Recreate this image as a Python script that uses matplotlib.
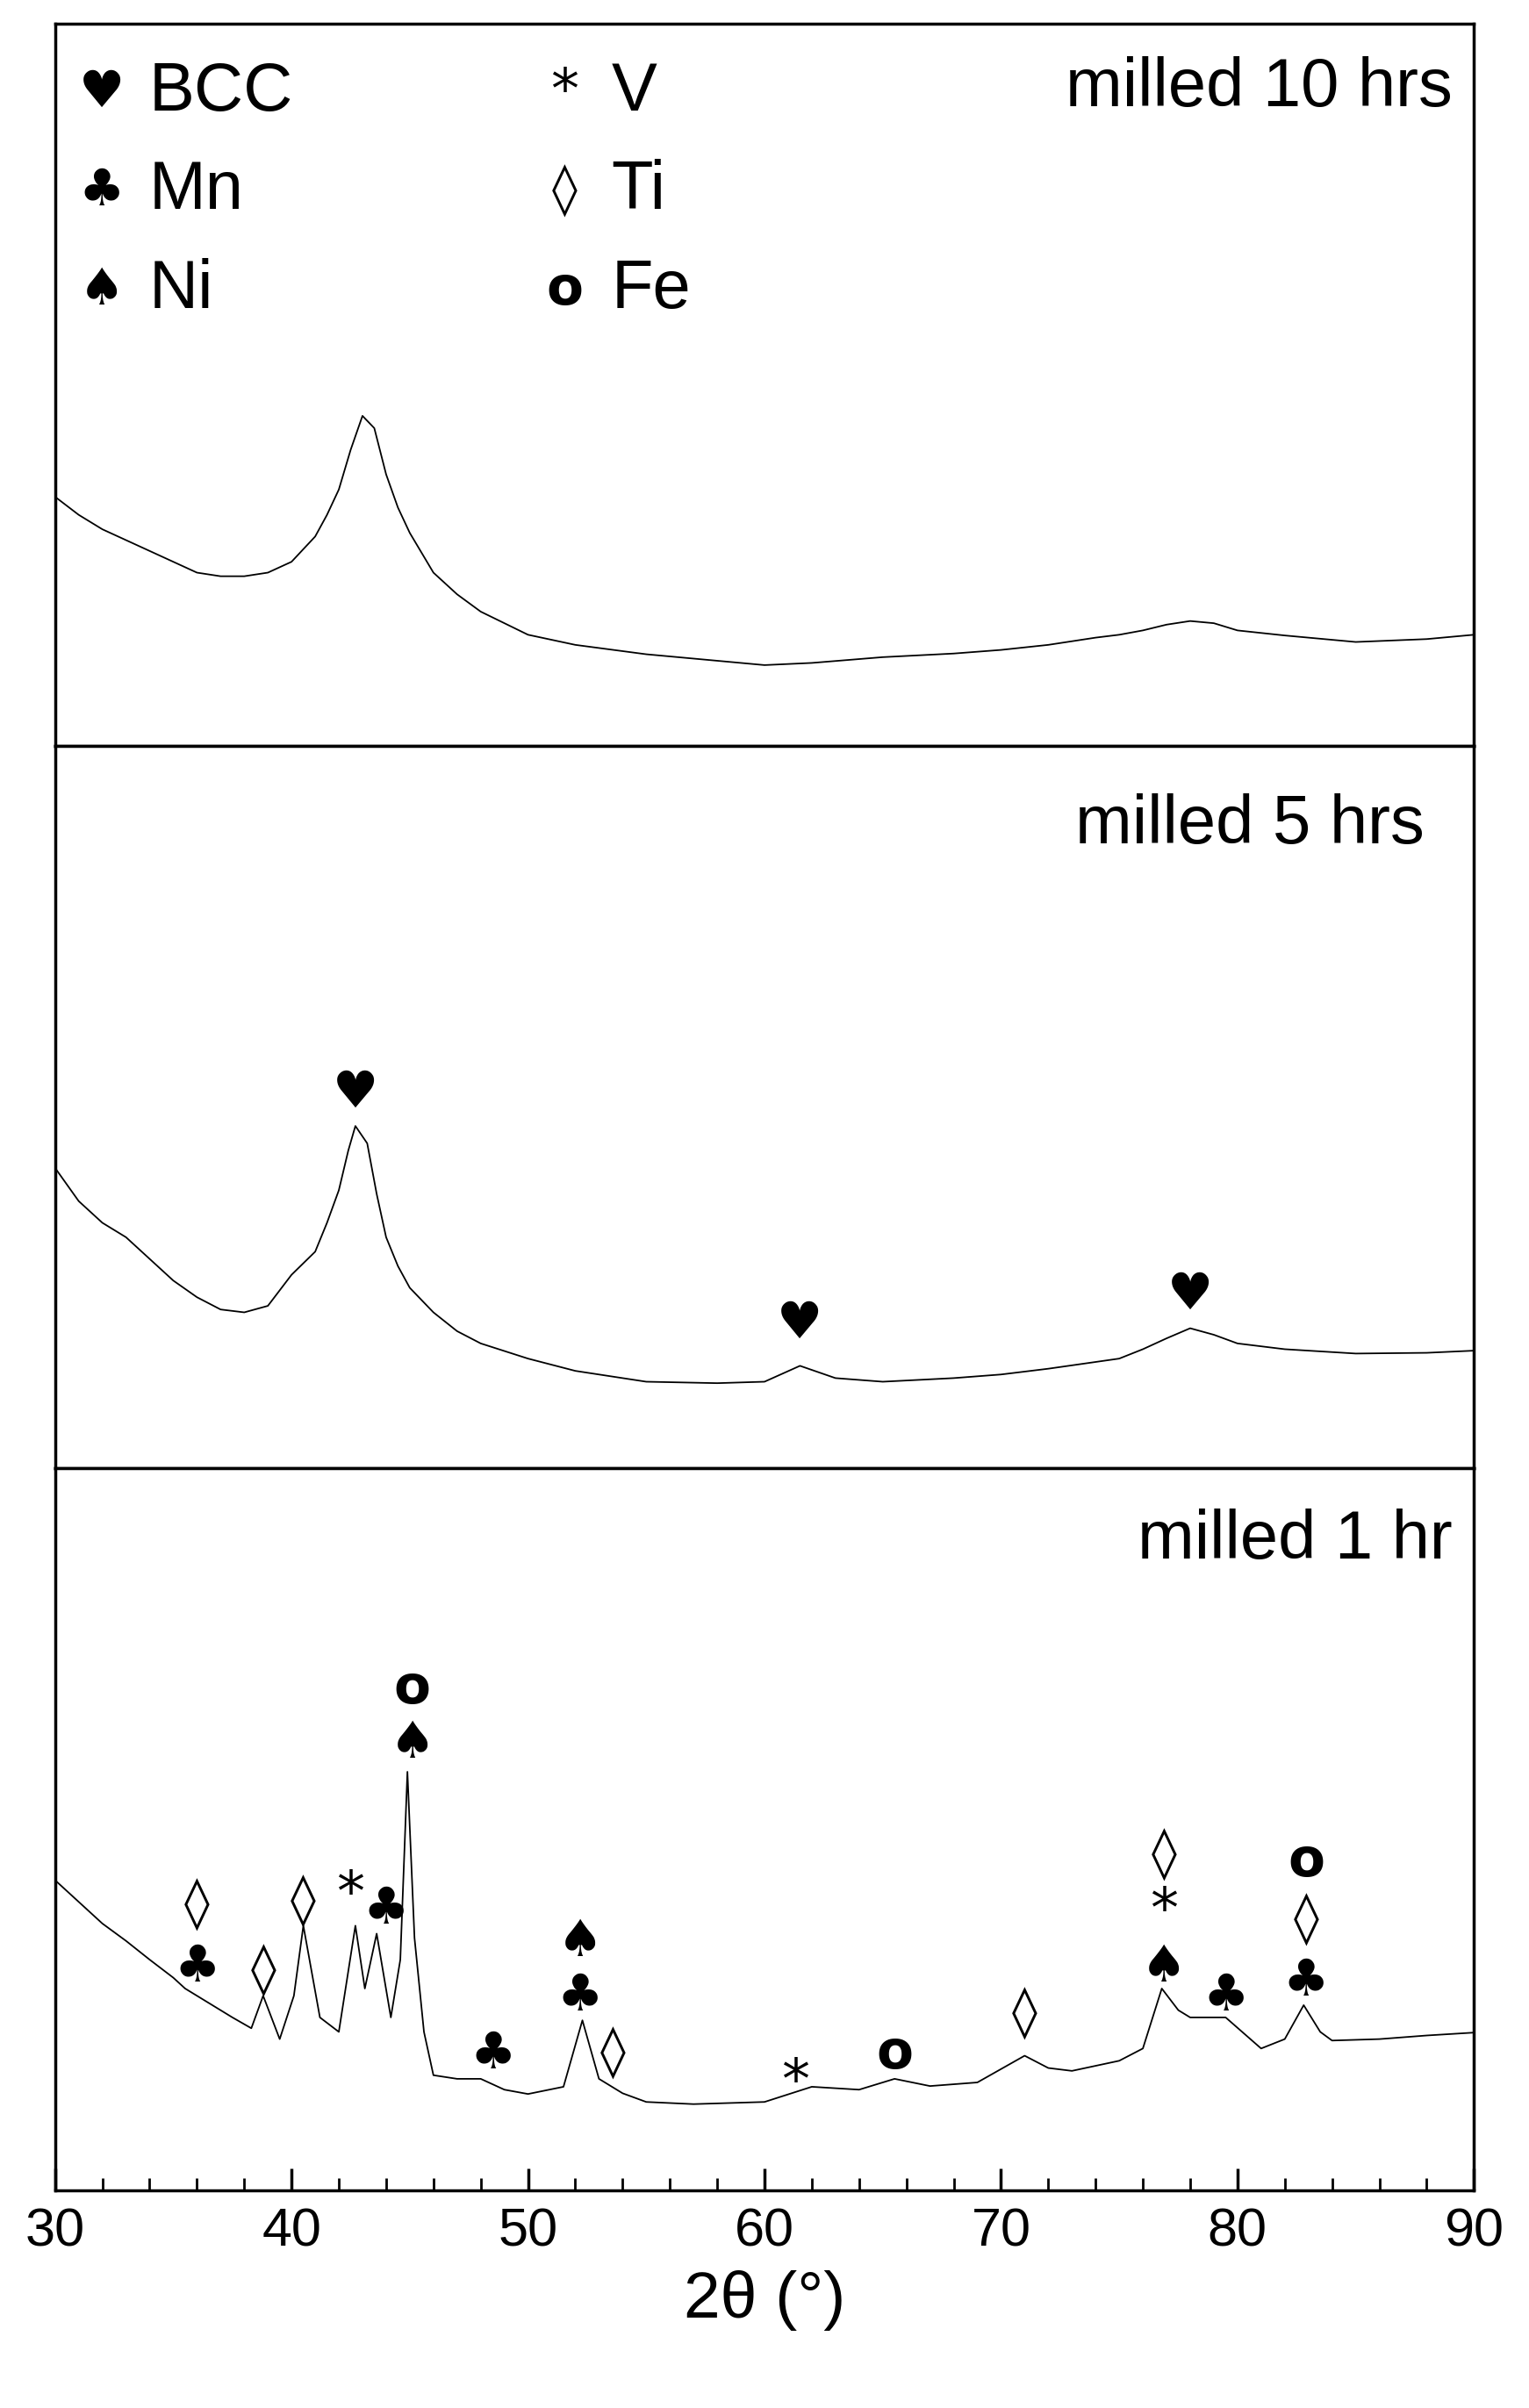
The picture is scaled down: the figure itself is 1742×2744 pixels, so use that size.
import matplotlib
matplotlib.use("Agg")
import matplotlib.pyplot as plt
from matplotlib.ticker import MultipleLocator

plt.rcParams['font.family'] = ['Liberation Sans', 'DejaVu Sans']

# 2theta (deg) and relative intensity for each pattern
x10 = [30, 31, 32, 33, 34, 35, 36, 37, 38, 39, 40, 41, 41.5, 42, 42.5, 43, 43.5, 44, 44.5, 45, 46, 47, 48, 49, 50, 52, 55, 58, 60, 62, 65, 68, 70, 72, 74, 75, 76, 77, 78, 79, 80, 82, 85, 88, 90]
y10 = [34.5, 32, 30, 28.5, 27, 25.5, 24, 23.5, 23.5, 24, 25.5, 29, 32, 35.5, 41, 45.7, 44, 37.6, 33, 29.5, 24, 21, 18.6, 17, 15.4, 14, 12.7, 11.8, 11.2, 11.5, 12.3, 12.8, 13.3, 14, 15, 15.4, 16, 16.8, 17.3, 17, 16, 15.3, 14.4, 14.8, 15.4]
x5 = [30, 31, 32, 33, 34, 35, 36, 37, 38, 39, 40, 41, 41.5, 42, 42.4, 42.7, 43.2, 43.6, 44, 44.5, 45, 46, 47, 48, 50, 52, 55, 58, 60, 61.5, 63, 65, 68, 70, 72, 75, 76, 77, 78, 79, 80, 82, 85, 88, 90]
y5 = [41.6, 37, 34, 32, 29, 26, 23.7, 22, 21.6, 22.5, 26.8, 30, 34, 38.5, 44, 47.4, 45, 38, 32, 28, 25, 21.6, 19, 17.3, 15.2, 13.5, 12, 11.8, 12, 14.2, 12.5, 12, 12.5, 13, 13.8, 15.2, 16.5, 18, 19.4, 18.5, 17.3, 16.5, 15.9, 16, 16.3]
x1 = [30, 31, 32, 33, 34, 35, 35.5, 36.5, 37.5, 38.3, 38.8, 39.5, 40.1, 40.5, 41.2, 42, 42.7, 43.1, 43.6, 44.2, 44.6, 44.9, 45.2, 45.6, 46, 47, 48, 49, 50, 51.5, 52.3, 53, 54, 55, 57, 60, 62, 64, 65.5, 67, 69, 71, 72, 73, 75, 76, 76.8, 77.5, 78, 79.5, 81, 82, 82.8, 83.5, 84, 86, 88, 90]
y1 = [43, 40, 37, 34.6, 32, 29.5, 28, 26, 24, 22.5, 27, 21, 27, 36.7, 24, 22, 36.7, 28, 35.6, 24, 32, 58, 35, 22, 16, 15.5, 15.5, 14, 13.4, 14.4, 23.6, 15.5, 13.5, 12.3, 12, 12.3, 14.4, 14, 15.5, 14.5, 15, 18.7, 17, 16.6, 18, 19.7, 28, 25, 24, 24, 19.7, 21, 25.7, 22, 20.8, 21, 21.5, 21.9]

panel_labels = ["milled 10 hrs", "milled 5 hrs", "milled 1 hr"]

marks5 = [(42.7, 52, '♥'), (61.5, 20, '♥'), (78, 24, '♥')]
marks1 = [
    (36, 31, '♣'), (36, 39.5, '◊'), (38.8, 30.5, '◊'), (40.5, 40, '◊'),
    (42.5, 41, '*'), (44, 39, '♣'), (45.1, 62, '♠'), (45.1, 69.5, 'o'),
    (48.5, 19, '♣'), (52.2, 27, '♣'), (52.2, 34.5, '♠'), (53.6, 19, '◊'),
    (61.3, 15, '*'), (65.5, 19, 'o'), (71, 24.5, '◊'), (76.9, 31, '♠'),
    (76.9, 38.7, '*'), (76.9, 46.5, '◊'), (79.5, 27, '♣'), (82.9, 29, '♣'),
    (82.9, 37.5, '◊'), (82.9, 45.5, 'o'),
]
legend_syms = ['♥', '♣', '♠', '*', '◊', 'o']
legend_names = ['BCC', 'Mn', 'Ni', 'V', 'Ti', 'Fe']

fig = plt.figure(figsize=(17.42, 27.44), dpi=100)
H = 0.300
bottom0 = 0.0902
axes = []
for i in range(3):
    ax = fig.add_axes([0.036, bottom0 + (2 - i) * H, 0.928, H])
    axes.append(ax)

for ax, x, y, lab in zip(axes, [x10, x5, x1], [y10, y5, y1], panel_labels):
    ax.plot(x, y, color='black', lw=1.3)
    ax.set_xlim(30, 90)
    ax.set_ylim(0, 100)
    ax.set_yticks([])
    for s in ax.spines.values():
        s.set_linewidth(2.5)
    ax.xaxis.set_major_locator(MultipleLocator(10))
    ax.xaxis.set_minor_locator(MultipleLocator(2))
    if ax is not axes[2]:
        ax.tick_params(axis='x', which='both', length=0, labelbottom=False)

axes[0].text(0.985, 0.91, panel_labels[0], transform=axes[0].transAxes, ha='right', va='center', fontsize=56)
axes[1].text(0.965, 0.89, panel_labels[1], transform=axes[1].transAxes, ha='right', va='center', fontsize=56)
axes[2].text(0.985, 0.9, panel_labels[2], transform=axes[2].transAxes, ha='right', va='center', fontsize=56)

axes[2].tick_params(axis='x', which='major', direction='in', length=18, width=2.5, labelsize=44, pad=14)
axes[2].tick_params(axis='x', which='minor', direction='in', length=10, width=2)
axes[2].set_xlabel('2θ (°)', fontsize=54, labelpad=10)

sym_font = ['DejaVu Sans']
def sym(ax, xx, yy, s, **kw):
    size = {'*': 46, 'o': 44, '◊': 42}.get(s, 42)
    ax.text(xx, yy, s, ha='center', va='center', fontsize=size, family=sym_font,
            fontweight='bold' if s == 'o' else 'normal', **kw)

for (xx, yy, s) in marks5:
    sym(axes[1], xx, yy, s)
for (xx, yy, s) in marks1:
    sym(axes[2], xx, yy, s)

for k, (s, n) in enumerate(zip(legend_syms, legend_names)):
    col, row = divmod(k, 3)
    xs = 0.033 + col * 0.326
    ys = 0.905 - row * 0.137
    sym(axes[0], xs, ys, s, transform=axes[0].transAxes)
    axes[0].text(xs + 0.033, ys, n, transform=axes[0].transAxes, ha='left', va='center', fontsize=56)

fig.savefig('out.png', dpi=100)
